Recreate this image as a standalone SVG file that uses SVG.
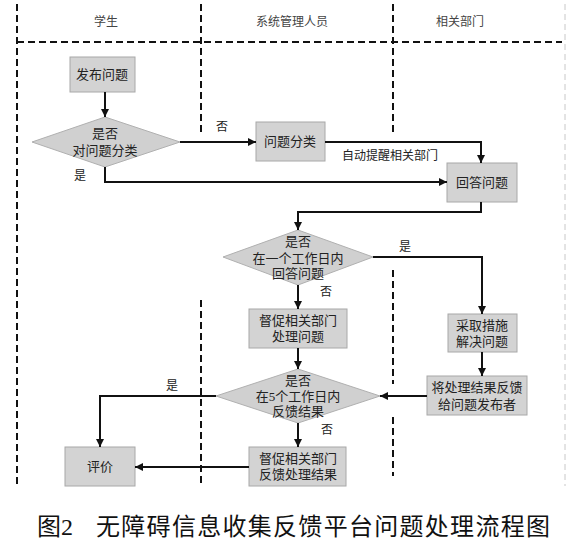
<svg xmlns="http://www.w3.org/2000/svg" width="588" height="541" viewBox="0 0 588 541">
<defs>
<style>
.lane{stroke:#111;stroke-width:2;stroke-dasharray:7 4;fill:none}
.faint{stroke:#c8c8c8;stroke-width:1;stroke-dasharray:6 4;fill:none}
.box{fill:#d3d3d3;stroke:#a8a8a8;stroke-width:1}
.dia{fill:#d0d0d0;stroke:#b0b0b0;stroke-width:1}
.t{font-family:"Liberation Serif","Noto Sans CJK SC",serif;font-size:13px;fill:#222;text-anchor:middle}
.h{font-family:"Liberation Serif","Noto Sans CJK SC",serif;font-size:12px;fill:#444;text-anchor:middle}
.lbl{font-family:"Liberation Serif","Noto Sans CJK SC",serif;font-size:12px;fill:#222;text-anchor:middle}
.cap{font-family:"Liberation Serif","Noto Sans CJK SC",serif;font-size:24px;fill:#111}
.c{stroke:#111;stroke-width:2;fill:none;marker-end:url(#ah)}
</style>
<marker id="ah" viewBox="0 0 10 10" refX="10" refY="5" markerWidth="4" markerHeight="4" orient="auto" markerUnits="strokeWidth">
<path d="M0,0 L10,5 L0,10 z" fill="#111"/>
</marker>
</defs>
<rect width="588" height="541" fill="#fff"/>
<g id="lanes">
<line class="lane" x1="17" y1="4" x2="17" y2="486"/>
<line class="lane" x1="201" y1="4" x2="201" y2="135"/>
<line class="lane" x1="201" y1="300" x2="201" y2="484"/>
<line class="lane" x1="393" y1="4" x2="393" y2="135"/>
<line class="lane" x1="393" y1="270" x2="393" y2="384"/>
<line class="lane" x1="393" y1="417" x2="393" y2="476"/>
<line class="faint" x1="565" y1="4" x2="565" y2="486"/>
<line class="lane" x1="17" y1="42" x2="562" y2="42"/>
<text class="h" x="106" y="26">学生</text>
<text class="h" x="292" y="26">系统管理人员</text>
<text class="h" x="460" y="26">相关部门</text>
</g>
<g id="n1"><rect class="box" x="70" y="57" width="65" height="35"/><text class="t" x="102" y="79">发布问题</text></g>
<g id="d1"><polygon class="dia" points="105,117 180,142 105,167 32,142"/><text class="t" x="105" y="138">是否</text><text class="t" x="105" y="155">对问题分类</text></g>
<g id="n2"><rect class="box" x="256" y="122" width="69" height="39"/><text class="t" x="290" y="146">问题分类</text></g>
<g id="n3"><rect class="box" x="447" y="163" width="70" height="39"/><text class="t" x="482" y="187">回答问题</text></g>
<g id="d2"><polygon class="dia" points="298,230 373,257 298,285 223,257"/><text class="t" x="298" y="246">是否</text><text class="t" x="298" y="263">在一个工作日内</text><text class="t" x="298" y="278">回答问题</text></g>
<g id="n4"><rect class="box" x="249" y="309" width="98" height="39"/><text class="t" x="298" y="325">督促相关部门</text><text class="t" x="298" y="341">处理问题</text></g>
<g id="n5"><rect class="box" x="448" y="314" width="69" height="38"/><text class="t" x="482" y="330">采取措施</text><text class="t" x="482" y="346">解决问题</text></g>
<g id="n6"><rect class="box" x="427" y="376" width="100" height="39"/><text class="t" x="477" y="392">将处理结果反馈</text><text class="t" x="477" y="409">给问题发布者</text></g>
<g id="d3"><polygon class="dia" points="298,369 380,396 298,423 216,396"/><text class="t" x="298" y="385">是否</text><text class="t" x="298" y="401">在5个工作日内</text><text class="t" x="298" y="416">反馈结果</text></g>
<g id="n7"><rect class="box" x="249" y="447" width="97" height="39"/><text class="t" x="298" y="463">督促相关部门</text><text class="t" x="298" y="479">反馈处理结果</text></g>
<g id="n8"><rect class="box" x="65" y="447" width="70" height="39"/><text class="t" x="100" y="471">评价</text></g>
<g id="connectors">
<path class="c" d="M105,92 V117"/>
<path class="c" d="M180,142 H256"/>
<path class="c" d="M325,142 H481 V163"/>
<path class="c" d="M105,167 V182 H447"/>
<path class="c" d="M481,202 V212 H298 V230"/>
<path class="c" d="M373,257 H482 V314"/>
<path class="c" d="M298,285 V309"/>
<path class="c" d="M298,348 V369"/>
<path class="c" d="M482,352 V376"/>
<path class="c" d="M427,396 H380"/>
<path class="c" d="M216,396 H100 V447"/>
<path class="c" d="M298,423 V447"/>
<path class="c" d="M249,467 H135"/>
<text class="lbl" x="222" y="131">否</text>
<text class="lbl" x="80" y="180">是</text>
<text class="lbl" x="390" y="160">自动提醒相关部门</text>
<text class="lbl" x="405" y="251">是</text>
<text class="lbl" x="326" y="296">否</text>
<text class="lbl" x="172" y="390">是</text>
<text class="lbl" x="327" y="434">否</text>
</g>
<g id="caption">
<text class="cap" x="37" y="535">图2</text>
<text class="cap" x="96" y="535" textLength="454" lengthAdjust="spacing">无障碍信息收集反馈平台问题处理流程图</text>
</g>
</svg>
